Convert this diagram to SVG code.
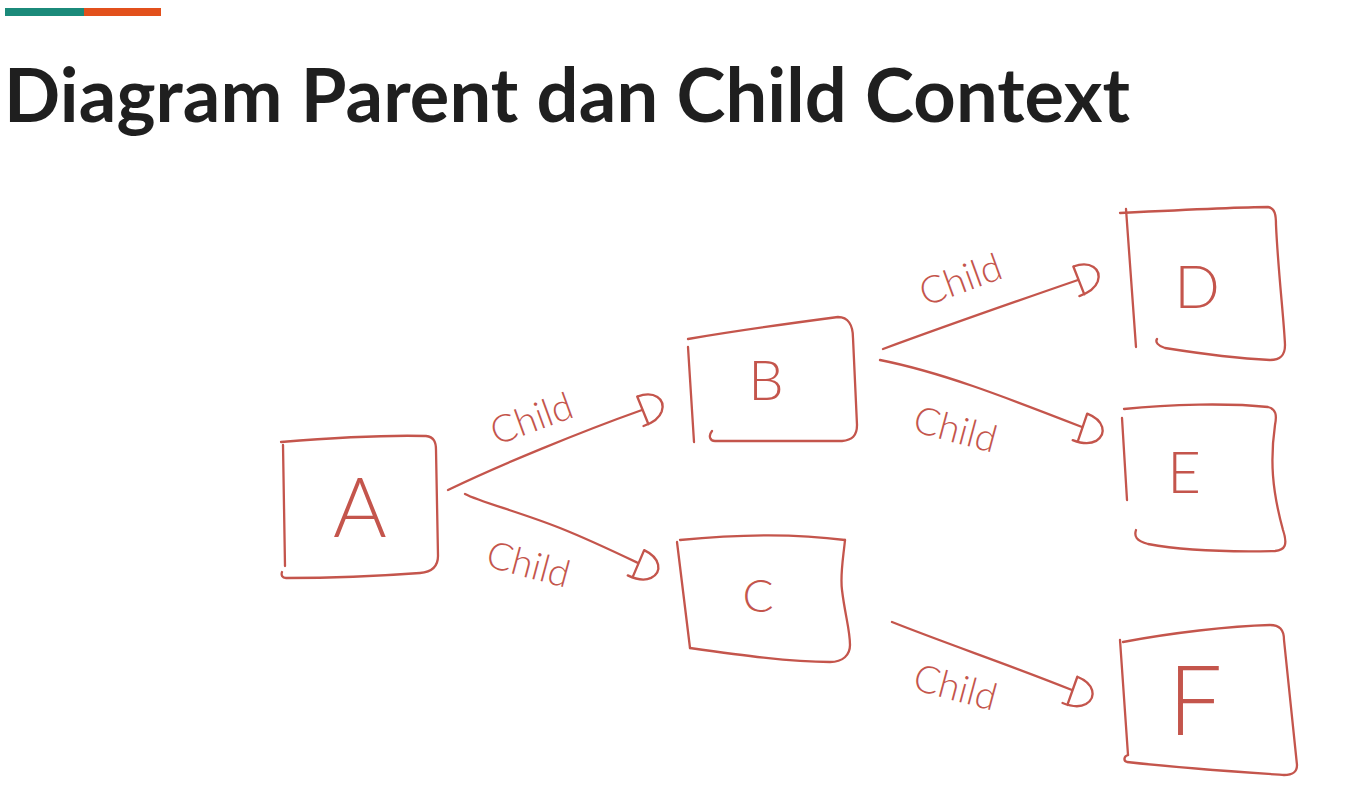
<svg xmlns="http://www.w3.org/2000/svg" width="1360" height="800" viewBox="0 0 1360 800">
  <style>
    .ink { fill: none; stroke: #c4554c; stroke-width: 2.3; stroke-linecap: round; stroke-linejoin: round; }
    .letter { fill: #c4554c; font-family: Lato, "Open Sans", "Liberation Sans", sans-serif; font-weight: 300; text-anchor: middle; }
    .label { fill: #c4554c; font-family: Lato, "Open Sans", "Liberation Sans", sans-serif; font-weight: 300; font-size: 38px; text-anchor: middle; }
    .title { fill: #1f1f1f; font-family: Lato, "Liberation Sans", sans-serif; font-weight: 700; font-size: 74px; }
  </style>
  <defs>
    <marker id="dHead" markerUnits="userSpaceOnUse" viewBox="-6 -16 30 32" markerWidth="39" markerHeight="42" refX="0" refY="0" orient="auto">
      <path d="M0,-11 L1,12 M0,-11 C14,-11 20,-2 14,6 C10,11 4,12 -3,12" fill="none" stroke="#c4554c" stroke-width="1.8" stroke-linecap="round"/>
    </marker>
  </defs>

  <rect width="1360" height="800" fill="#ffffff"/>

  <!-- header accent bar -->
  <rect x="5" y="8" width="79" height="8" fill="#1b8a7a"/>
  <rect x="84" y="8" width="77" height="8" fill="#e2501c"/>

  <text class="title" x="4" y="122" textLength="1126" lengthAdjust="spacing">Diagram Parent dan Child Context</text>

  <!-- connectors -->
  <g id="connectors">
    <path class="ink" d="M448,490 C500,465 580,432 642,410" marker-end="url(#dHead)"/>
    <path class="ink" d="M465,494 C480,502 520,512 560,528 C590,540 615,552 638,563" marker-end="url(#dHead)"/>
    <path class="ink" d="M883,349 C940,328 1020,300 1078,280" marker-end="url(#dHead)"/>
    <path class="ink" d="M880,360 C940,372 1000,395 1082,427" marker-end="url(#dHead)"/>
    <path class="ink" d="M892,622 C950,645 1010,665 1072,690" marker-end="url(#dHead)"/>
    <text class="label" transform="translate(536,431) rotate(-20)">Child</text>
    <text class="label" transform="translate(525,577) rotate(15)">Child</text>
    <text class="label" transform="translate(965,292) rotate(-20)">Child</text>
    <text class="label" transform="translate(952,442) rotate(15)">Child</text>
    <text class="label" transform="translate(952,700) rotate(15)">Child</text>
  </g>

  <g id="node-a">
    <path class="ink" d="M281,442 C330,438 390,435 426,436 C434,437 436,442 436,450 L438,556 C438,566 432,572 420,573 C380,576 320,578 286,578 C282,578 281,575 282,572"/>
    <path class="ink" d="M283,445 L285,566"/>
    <text class="letter" x="360" y="537" font-size="82">A</text>
  </g>

  <g id="node-b">
    <path class="ink" d="M688,339 C740,330 800,322 838,317 C848,317 853,325 853,338 L857,425 C857,436 852,440 842,441 L715,441 C710,441 708,436 712,431"/>
    <path class="ink" d="M688,347 L694,442"/>
    <text class="letter" x="766" y="400" font-size="56">B</text>
  </g>

  <g id="node-c">
    <path class="ink" d="M680,540 C740,534 800,534 845,540"/>
    <path class="ink" d="M845,540 C843,560 840,575 842,590 C845,615 850,630 850,645 C850,655 843,662 830,662 C790,662 740,655 690,648"/>
    <path class="ink" d="M677,542 L690,648"/>
    <text class="letter" x="758" y="612" font-size="46">C</text>
  </g>

  <g id="node-d">
    <path class="ink" d="M1120,213 C1180,210 1240,207 1268,207 C1275,208 1276,215 1276,225 C1278,270 1284,320 1285,345 C1285,356 1280,360 1270,360 C1230,358 1190,352 1165,348 C1158,346 1155,342 1157,339"/>
    <path class="ink" d="M1126,209 L1136,347"/>
    <text class="letter" x="1197" y="308" font-size="60">D</text>
  </g>

  <g id="node-e">
    <path class="ink" d="M1124,409 C1170,404 1230,403 1268,407 C1276,409 1277,415 1275,425 C1270,460 1272,490 1283,530 C1288,545 1285,550 1275,551 C1230,552 1180,550 1148,544 C1136,541 1134,536 1136,530"/>
    <path class="ink" d="M1122,418 L1127,500"/>
    <text class="letter" x="1184" y="493" font-size="58">E</text>
  </g>

  <g id="node-f">
    <path class="ink" d="M1123,642 C1170,633 1230,626 1270,625 C1280,625 1284,630 1284,640 L1297,765 C1297,773 1292,775 1284,775 C1240,772 1180,768 1127,762 C1123,761 1124,756 1128,755"/>
    <path class="ink" d="M1120,640 L1128,755"/>
    <text class="letter" x="1195" y="735" font-size="96">F</text>
  </g>
</svg>
